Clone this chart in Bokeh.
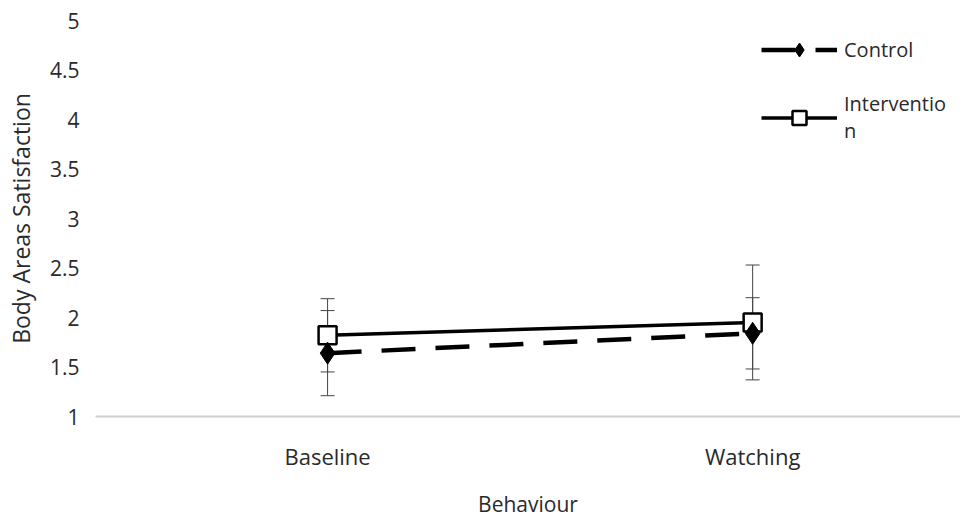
from bokeh.plotting import figure
from bokeh.models import Whisker, ColumnDataSource, FixedTicker, Legend, LegendItem, NumeralTickFormatter
from bokeh.embed import file_html
from bokeh.resources import INLINE

categories = ["Baseline", "Watching"]
control_mean = [1.64, 1.84]
control_err = [0.43, 0.36]
intervention_mean = [1.82, 1.95]
intervention_err = [0.37, 0.58]
y_ticks = [1, 1.5, 2, 2.5, 3, 3.5, 4, 4.5, 5]

xs = [i + 1 for i in range(len(categories))]

ctrl = ColumnDataSource(dict(
    x=xs, y=control_mean,
    upper=[m + e for m, e in zip(control_mean, control_err)],
    lower=[m - e for m, e in zip(control_mean, control_err)],
))
intv = ColumnDataSource(dict(
    x=xs, y=intervention_mean,
    upper=[m + e for m, e in zip(intervention_mean, intervention_err)],
    lower=[m - e for m, e in zip(intervention_mean, intervention_err)],
))

FONT = "Open Sans"
TXT = "#2a2a2a"
p = figure(width=960, height=520, x_range=(0.454, 2.489), y_range=(1, 5),
           output_backend="svg", toolbar_location=None,
           min_border_left=95, min_border_right=0, min_border_top=20, min_border_bottom=104)
p.outline_line_color = None
p.xgrid.grid_line_color = None
p.ygrid.grid_line_color = None

# axes
p.yaxis.ticker = FixedTicker(ticks=y_ticks)
p.yaxis.formatter = NumeralTickFormatter(format="0.[0]")
p.yaxis.axis_line_color = None
p.yaxis.major_tick_line_color = None
p.yaxis.minor_tick_line_color = None
p.yaxis.major_label_text_font = FONT
p.yaxis.major_label_text_font_size = "21px"
p.yaxis.major_label_text_color = TXT
p.yaxis.major_label_standoff = 10
p.yaxis.axis_label = "Body Areas Satisfaction"
p.yaxis.axis_label_text_font = FONT
p.yaxis.axis_label_text_font_size = "23px"
p.yaxis.axis_label_text_font_style = "normal"
p.yaxis.axis_label_text_color = TXT
p.yaxis.axis_label_standoff = 10

p.xaxis.ticker = FixedTicker(ticks=xs)
p.xaxis.major_label_overrides = {x: c for x, c in zip(xs, categories)}
p.xaxis.axis_line_color = "#cfcfcf"
p.xaxis.axis_line_width = 2
p.xaxis.major_tick_line_color = None
p.xaxis.minor_tick_line_color = None
p.xaxis.major_label_text_font = FONT
p.xaxis.major_label_text_font_size = "22px"
p.xaxis.major_label_text_color = TXT
p.xaxis.major_label_standoff = 18
p.xaxis.axis_label = "Behaviour"
p.xaxis.axis_label_text_font = FONT
p.xaxis.axis_label_text_font_size = "21px"
p.xaxis.axis_label_text_font_style = "normal"
p.xaxis.axis_label_text_color = TXT
p.xaxis.axis_label_standoff = 16

# error bars
for src in (intv, ctrl):
    w = Whisker(base="x", upper="upper", lower="lower", source=src,
                line_color="#444444", line_width=1)
    w.upper_head.size = 14
    w.lower_head.size = 14
    w.upper_head.line_color = "#444444"
    w.lower_head.line_color = "#444444"
    w.upper_head.line_width = 1
    w.lower_head.line_width = 1
    p.add_layout(w)

li = p.line("x", "y", source=intv, line_color="black", line_width=3.5)
si = p.scatter("x", "y", source=intv, marker="square", size=18,
               fill_color="white", line_color="black", line_width=2.5)
lc = p.line("x", "y", source=ctrl, line_color="black", line_width=4.5, line_dash="34 20")
sc = p.scatter("x", "y", source=ctrl, marker="diamond", size=22,
               fill_color="black", line_color="black")

legend = Legend(items=[
    LegendItem(label="Control", renderers=[lc, sc]),
    LegendItem(label="Interventio\nn", renderers=[li, si]),
], location=(666, 272))
legend.border_line_color = None
legend.background_fill_alpha = 0
legend.label_text_font = FONT
legend.label_text_font_size = "20px"
legend.label_text_color = TXT
legend.glyph_width = 76
legend.glyph_height = 35
legend.label_standoff = 7
legend.spacing = 23
legend.padding = 0
legend.margin = 0
p.add_layout(legend)

open("out.html", "w").write(file_html(p, INLINE))
